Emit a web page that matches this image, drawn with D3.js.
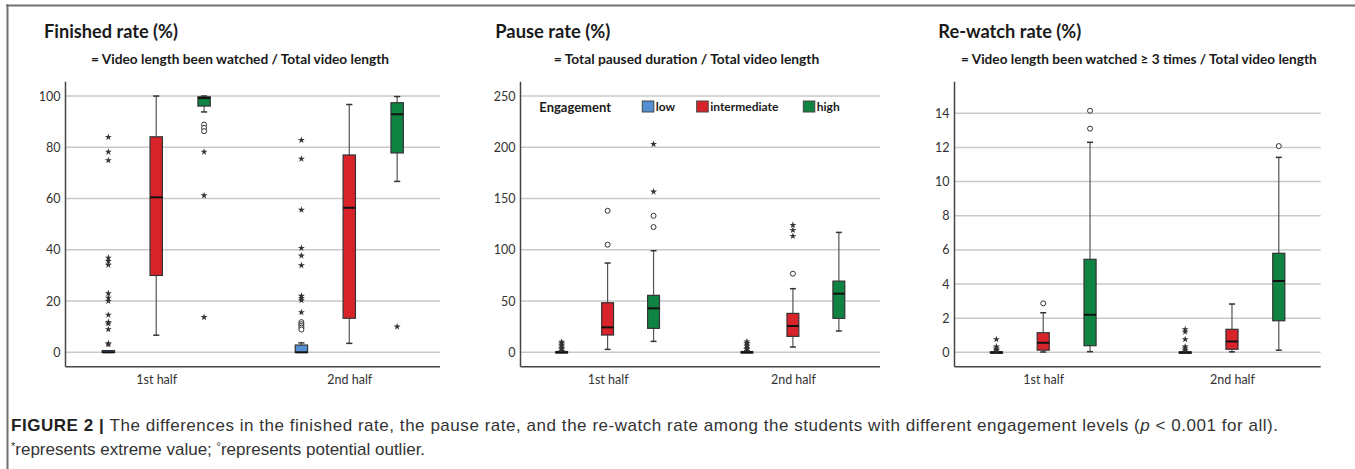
<!DOCTYPE html>
<html>
<head>
<meta charset="utf-8">
<script src="https://cdn.jsdelivr.net/npm/d3@7"></script>
<style>
  body { margin: 0; background: #fff; }
  svg { display: block; }
</style>
</head>
<body>
<svg id="fig" width="1355" height="469"></svg>
<script>
// groups are ordered: 1st half (low, intermediate, high), 2nd half (low, intermediate, high)
const halves = ["1st half", "2nd half"];
const levels = ["low", "intermediate", "high"];
const levelColors = ["#5590d2", "#d8232a", "#0f8442"];

// box stats per group: [lower whisker, q1, median, q3, upper whisker]
const finishedStats = [
  [0, 0, 0, 0.7, 0.7],
  [6.7, 30.0, 60.5, 84.1, 100],
  [93.8, 96.1, 99.2, 99.7, 100],
  [0, 0, 0, 2.85, 3.7],
  [3.5, 13.3, 56.4, 77.0, 96.7],
  [66.7, 77.8, 92.9, 97.4, 99.8]
];
const finishedOutliers = [[], [], [88.9, 87.6, 86.3], [11.8, 11.0, 10.3, 9.6, 8.9], [], []];
const finishedExtremes = [
  [84.0, 78.2, 74.9, 36.9, 35.6, 34.1, 23.0, 21.3, 20.0, 14.6, 11.8, 11.2, 9.0, 3.5, 3.0],
  [],
  [78.2, 61.2, 13.7],
  [82.8, 75.5, 55.6, 40.7, 37.7, 33.9, 22.0, 21.2, 20.3, 15.6],
  [],
  [10.0]
];

const pauseStats = [
  [0, 0, 0, 0.8, 1.5],
  [2.9, 16.9, 24.4, 48.4, 87.1],
  [10.7, 23.4, 42.9, 55.6, 99.1],
  [0, 0, 0, 0.8, 1.5],
  [5.2, 15.6, 25.7, 38.0, 62.1],
  [20.8, 33.2, 57.2, 69.5, 117.0]
];
const pauseOutliers = [[], [138.1, 105.0], [133.2, 122.2], [], [76.7], []];
const pauseExtremes = [
  [10.3, 8.8, 7.2, 5.6, 4.0, 2.6],
  [],
  [203.2, 156.7],
  [10.5, 9.0, 7.4, 5.8, 4.2, 2.8],
  [124.2, 119.3, 113.4],
  []
];

const rewatchStats = [
  [0, 0, 0, 0.03, 0.05],
  [0.02, 0.13, 0.56, 1.15, 2.32],
  [0.04, 0.39, 2.2, 5.45, 12.3],
  [0, 0, 0, 0.03, 0.05],
  [0.03, 0.18, 0.64, 1.35, 2.83],
  [0.13, 1.85, 4.18, 5.8, 11.42]
];
const rewatchOutliers = [[], [2.87], [14.15, 13.1], [], [], [12.08]];
const rewatchExtremes = [
  [0.76, 0.33, 0.22, 0.15, 0.1],
  [],
  [],
  [1.35, 1.2, 0.76, 0.33, 0.22, 0.12],
  [],
  []
];

const finishedTicks = [0, 20, 40, 60, 80, 100];
const pauseTicks = [0, 50, 100, 150, 200, 250];
const rewatchTicks = [0, 2, 4, 6, 8, 10, 12, 14];

const panels = [
  { title: "Finished rate (%)", subtitle: "= Video length been watched / Total video length",
    stats: finishedStats, outliers: finishedOutliers, extremes: finishedExtremes,
    domain: [-5.6, 105.6], ticks: finishedTicks,
    x0: 65.5, x1: 440, titleX: 44, titleW: 134, subX: 91, subW: 298, legend: false },
  { title: "Pause rate (%)", subtitle: "= Total paused duration / Total video length",
    stats: pauseStats, outliers: pauseOutliers, extremes: pauseExtremes,
    domain: [-14, 264], ticks: pauseTicks,
    x0: 520.5, x1: 880, titleX: 495.3, titleW: 115, subX: 553.7, subW: 265.6, legend: true },
  { title: "Re-watch rate (%)", subtitle: "= Video length been watched \u2265 3 times / Total video length",
    stats: rewatchStats, outliers: rewatchOutliers, extremes: rewatchExtremes,
    domain: [-0.84, 15.85], ticks: rewatchTicks,
    x0: 954.5, x1: 1320.7, titleX: 938.3, titleW: 143, subX: 961, subW: 355.7, legend: false }
];

const plotTop = 81.7, plotBottom = 366.7;
const headFont = "Lato, 'Open Sans', sans-serif";
const capFont = "'Liberation Sans', Arial, sans-serif";

const svg = d3.select("#fig");

// frame
svg.append("line").attr("x1", 6).attr("x2", 1355).attr("y1", 5.5).attr("y2", 5.5)
  .attr("stroke", "#707070").attr("stroke-width", 2);
svg.append("line").attr("x1", 7.5).attr("x2", 7.5).attr("y1", 4.5).attr("y2", 469)
  .attr("stroke", "#707070").attr("stroke-width", 2);

function drawPanel(p) {
  const g = svg.append("g");

  const y = d3.scaleLinear().domain(p.domain).range([plotBottom, plotTop]);
  const x = d3.scalePoint().domain(halves).range([p.x0, p.x1]).padding(0.47);
  const step = x.step();
  const off = d3.scalePoint().domain(levels).range([-step * 0.248, step * 0.248]);
  const boxW = step * 0.064;
  const capW = boxW * 0.5;

  // titles
  g.append("text").attr("x", p.titleX).attr("y", 38)
    .attr("font-family", headFont).attr("font-weight", 700).attr("font-size", 18)
    .attr("fill", "#1a1a1a")
    .attr("textLength", p.titleW).attr("lengthAdjust", "spacingAndGlyphs")
    .text(p.title);
  g.append("text").attr("x", p.subX).attr("y", 64)
    .attr("font-family", headFont).attr("font-weight", 700).attr("font-size", 13.5)
    .attr("fill", "#1a1a1a")
    .attr("textLength", p.subW).attr("lengthAdjust", "spacingAndGlyphs")
    .text(p.subtitle);

  // gridlines
  g.append("g").selectAll("line").data(p.ticks).join("line")
    .attr("x1", p.x0).attr("x2", p.x1)
    .attr("y1", d => y(d)).attr("y2", d => y(d))
    .attr("stroke", "#c9c9c9").attr("stroke-width", 1.5);

  // y axis
  const yAxis = g.append("g").attr("transform", `translate(${p.x0},0)`)
    .call(d3.axisLeft(y).tickValues(p.ticks).tickSize(0).tickPadding(5));
  yAxis.select(".domain").remove();
  yAxis.selectAll("text").attr("font-family", headFont).attr("font-size", 12.5).attr("fill", "#333");

  g.append("line").attr("x1", p.x0).attr("x2", p.x0).attr("y1", plotTop).attr("y2", plotBottom)
    .attr("stroke", "#444").attr("stroke-width", 1.5);

  // x axis
  const xAxis = g.append("g").attr("transform", `translate(0,${plotBottom})`)
    .call(d3.axisBottom(x).tickSize(0).tickPadding(8));
  xAxis.select(".domain").remove();
  xAxis.selectAll("text").attr("font-family", headFont).attr("font-size", 12.5).attr("fill", "#333");
  g.append("line").attr("x1", p.x0).attr("x2", p.x1).attr("y1", plotBottom).attr("y2", plotBottom)
    .attr("stroke", "#444").attr("stroke-width", 1.5);

  // boxes
  p.stats.forEach((s, i) => {
    const half = halves[Math.floor(i / 3)];
    const li = i % 3;
    const cx = x(half) + off(levels[li]);
    const [lo, q1, med, q3, hi] = s;
    const bg = g.append("g");

    if (hi > q3) {
      bg.append("line").attr("x1", cx).attr("x2", cx).attr("y1", y(q3)).attr("y2", y(hi))
        .attr("stroke", "#555").attr("stroke-width", 1.2);
      bg.append("line").attr("x1", cx - capW / 2).attr("x2", cx + capW / 2).attr("y1", y(hi)).attr("y2", y(hi))
        .attr("stroke", "#333").attr("stroke-width", 1.5);
    }
    if (lo < q1) {
      bg.append("line").attr("x1", cx).attr("x2", cx).attr("y1", y(q1)).attr("y2", y(lo))
        .attr("stroke", "#555").attr("stroke-width", 1.2);
      bg.append("line").attr("x1", cx - capW / 2).attr("x2", cx + capW / 2).attr("y1", y(lo)).attr("y2", y(lo))
        .attr("stroke", "#333").attr("stroke-width", 1.5);
    }
    bg.append("rect")
      .attr("x", cx - boxW / 2).attr("width", boxW)
      .attr("y", y(q3)).attr("height", Math.max(y(q1) - y(q3), 1.5))
      .attr("fill", levelColors[li]).attr("stroke", "#333").attr("stroke-width", 1.2);
    bg.append("line").attr("x1", cx - boxW / 2).attr("x2", cx + boxW / 2).attr("y1", y(med)).attr("y2", y(med))
      .attr("stroke", "#111").attr("stroke-width", 2);

    bg.selectAll("circle").data(p.outliers[i]).join("circle")
      .attr("cx", cx).attr("cy", d => y(d)).attr("r", 2.5)
      .attr("fill", "#fff").attr("stroke", "#333").attr("stroke-width", 1);

    bg.selectAll("path.star").data(p.extremes[i]).join("path")
      .attr("class", "star")
      .attr("transform", d => `translate(${cx},${y(d)})`)
      .attr("d", d3.symbol(d3.symbolStar).size(15))
      .attr("fill", "#333");
  });

  if (p.legend) {
    const lg = g.append("g");
    lg.append("text").attr("x", 539.3).attr("y", 111.5)
      .attr("font-family", headFont).attr("font-weight", 700).attr("font-size", 13)
      .attr("fill", "#1a1a1a").text("Engagement");
    const lx = [642.3, 696.7, 803.3];
    levels.forEach((l, i) => {
      lg.append("rect").attr("x", lx[i]).attr("y", 101).attr("width", 11.5).attr("height", 11)
        .attr("fill", levelColors[i]).attr("stroke", "#444").attr("stroke-width", 1);
      lg.append("text").attr("x", lx[i] + 13.5).attr("y", 110.5)
        .attr("font-family", headFont).attr("font-weight", 700).attr("font-size", 12)
        .attr("fill", "#1a1a1a").text(l);
    });
  }
}

panels.forEach(drawPanel);

// caption
const cap1 = svg.append("text").attr("x", 11).attr("y", 431)
  .attr("font-family", capFont).attr("font-size", 17).attr("fill", "#333")
  .attr("textLength", 1267).attr("lengthAdjust", "spacing");
cap1.append("tspan").attr("font-weight", 700).attr("fill", "#222").text("FIGURE 2 | ");
cap1.append("tspan").text("The differences in the finished rate, the pause rate, and the re-watch rate among the students with different engagement levels (");
cap1.append("tspan").attr("font-style", "italic").text("p");
cap1.append("tspan").text(" < 0.001 for all).");

const cap2 = svg.append("text").attr("x", 11).attr("y", 455)
  .attr("font-family", capFont).attr("font-size", 17).attr("fill", "#333");
cap2.append("tspan").attr("font-size", 11).attr("dy", -5).text("*");
cap2.append("tspan").attr("dy", 5).text("represents extreme value; ");
cap2.append("tspan").attr("font-size", 11).attr("dy", -5).text("\u00b0");
cap2.append("tspan").attr("dy", 5).text("represents potential outlier.");
</script>
</body>
</html>
